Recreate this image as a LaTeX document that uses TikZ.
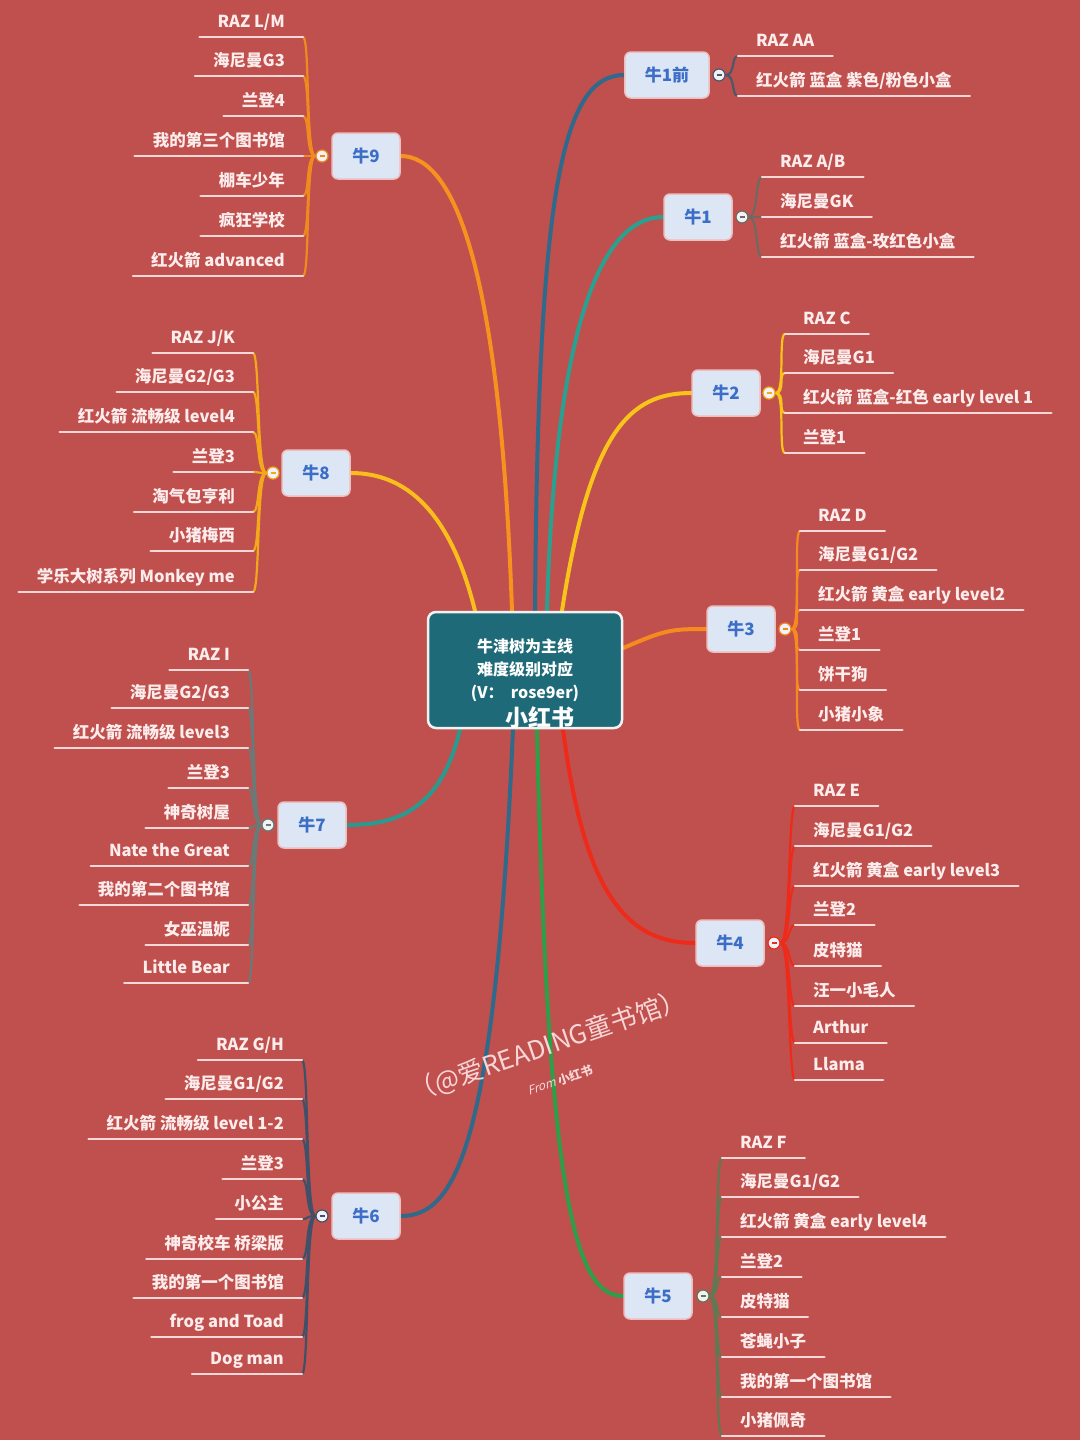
\documentclass[tikz,border=0pt]{standalone}
\usepackage{fontspec}
\setmainfont{Noto Sans CJK SC}
\newfontfamily\slantfont{Noto Sans CJK SC}[FakeSlant=0.3]
\usetikzlibrary{backgrounds}

\definecolor{bg}{RGB}{192,80,77}
\definecolor{ctrfill}{RGB}{30,106,120}
\definecolor{boxfill}{RGB}{220,230,244}
\definecolor{boxline}{RGB}{236,190,190}
\definecolor{niutext}{RGB}{60,110,200}
\definecolor{leaftext}{RGB}{252,236,236}
\definecolor{ulinec}{RGB}{247,215,215}
\definecolor{foldfill}{RGB}{240,242,246}
\definecolor{wmtext}{RGB}{246,214,214}
% branch colours
\definecolor{c1q}{RGB}{47,105,140}
\definecolor{c1qL}{RGB}{75,88,105}
\definecolor{c1}{RGB}{42,160,145}
\definecolor{c1L}{RGB}{112,104,98}
\definecolor{c2}{RGB}{248,196,26}
\definecolor{c3}{RGB}{246,138,31}
\definecolor{c4}{RGB}{238,43,26}
\definecolor{c5}{RGB}{46,158,72}
\definecolor{c5L}{RGB}{98,120,82}
\definecolor{c6}{RGB}{47,106,138}
\definecolor{c6L}{RGB}{64,80,104}
\definecolor{c7}{RGB}{42,154,144}
\definecolor{c7L}{RGB}{106,122,120}
\definecolor{c8}{RGB}{249,190,28}
\definecolor{c8L}{RGB}{242,168,26}
\definecolor{c9}{RGB}{247,146,30}
\definecolor{c9L}{RGB}{240,138,30}

\tikzset{
  leafR/.style={anchor=south west, inner xsep=18pt, inner ysep=3pt, text height=13pt, text depth=6pt, text=leaftext, font=\bfseries\fontsize{16.5}{18}\selectfont},
  leafL/.style={leafR, anchor=south east},
  uline/.style={draw=ulinec, line width=2.5pt, line cap=round},
  niu/.style={draw=boxline, fill=boxfill, rounded corners=6pt, line width=1.5pt, minimum width=68pt, minimum height=46pt, inner xsep=20pt, text=niutext, font=\bfseries\fontsize{17}{20}\selectfont},
  fold/.style={circle, draw=#1, fill=foldfill, line width=1.2pt, minimum size=12pt, inner sep=0pt, text=#1},
  trunk/.style={draw=#1, line width=4pt, line cap=round},
  twig/.style={draw=#1, line width=2.2pt},
}

\begin{document}
\begin{tikzpicture}[x=1pt,y=-1pt]
\useasboundingbox (0,0) rectangle (1080,1440);

% centre
\node[draw=white!90!gray, fill=ctrfill, rounded corners=8pt, line width=2.5pt, minimum width=194pt, minimum height=116pt, align=center, text=white, font=\bfseries\fontsize{16}{23}\selectfont] (ctr) at (525,670) {牛津树为主线\\难度级别对应\\(V：\ \ rose9er)};
\node[text=white, font=\bfseries\fontsize{23}{25}\selectfont] (wm1) at (540,718) {小红书};

% branches
\node[niu] (n1q) at (667,75) {牛1前};
\node[niu] (n1) at (698,217) {牛1};
\node[niu] (n2) at (726,393) {牛2};
\node[niu] (n3) at (741,629) {牛3};
\node[niu] (n4) at (730,943) {牛4};
\node[niu] (n5) at (658,1296) {牛5};
\node[niu] (n6) at (366,1216) {牛6};
\node[niu] (n7) at (312,825) {牛7};
\node[niu] (n8) at (316,473) {牛8};
\node[niu] (n9) at (366,156) {牛9};

\begin{pgfonlayer}{background}
\fill[bg] (0,0) rectangle (1080,1440);
\draw[trunk=c1q] ([xshift=10pt]ctr.north) .. controls (538,200) and (560,75) .. (n1q.west);
\draw[trunk=c1] ([xshift=22pt]ctr.north) .. controls (555,330) and (600,217) .. (n1.west);
\draw[trunk=c2] ([xshift=37pt]ctr.north) .. controls (590,430) and (630,393) .. (n2.west);
\draw[trunk=c3] ([yshift=22pt]ctr.east) .. controls (665,630) and (670,629) .. (n3.west);
\draw[trunk=c4] ([xshift=38pt]ctr.south) .. controls (585,900) and (630,943) .. (n4.west);
\draw[trunk=c5] ([xshift=12pt]ctr.south) .. controls (548,1200) and (575,1296) .. (n5.west);
\draw[trunk=c6] ([xshift=-12pt]ctr.south) .. controls (495,1150) and (455,1216) .. (n6.east);
\draw[trunk=c7] ([xshift=-65pt]ctr.south) .. controls (440,815) and (390,825) .. (n7.east);
\draw[trunk=c8] ([xshift=-50pt]ctr.north) .. controls (450,510) and (405,473) .. (n8.east);
\draw[trunk=c9] ([xshift=-13pt]ctr.north) .. controls (500,270) and (455,156) .. (n9.east);
\end{pgfonlayer}

% fold buttons
\node[fold=c1qL] (f1q) at (719,75) {\rule{5pt}{1.6pt}};
\node[fold=c1L] (f1) at (742,217) {\rule{5pt}{1.6pt}};
\node[fold=c8L] (f2) at (769,393) {\rule{5pt}{1.6pt}};
\node[fold=c9L] (f3) at (785,629) {\rule{5pt}{1.6pt}};
\node[fold=c4] (f4) at (774,943) {\rule{5pt}{1.6pt}};
\node[fold=c5L] (f5) at (703,1296) {\rule{5pt}{1.6pt}};
\node[fold=c6L] (f6) at (322,1216) {\rule{5pt}{1.6pt}};
\node[fold=c7L] (f7) at (268,825) {\rule{5pt}{1.6pt}};
\node[fold=c8L] (f8) at (273,473) {\rule{5pt}{1.6pt}};
\node[fold=c9L] (f9) at (322,156) {\rule{5pt}{1.6pt}};

% 牛1前
\node[leafR] (l1qa) at (738,56) {RAZ AA};
\node[leafR] (l1qb) at (738,96) {红火箭 蓝盒 紫色/粉色小盒};
% 牛1
\node[leafR] (l1a) at (762,177) {RAZ A/B};
\node[leafR] (l1b) at (762,217) {海尼曼GK};
\node[leafR] (l1c) at (762,257) {红火箭 蓝盒-玫红色小盒};
% 牛2
\node[leafR] (l2a) at (785,334) {RAZ C};
\node[leafR] (l2b) at (785,373) {海尼曼G1};
\node[leafR] (l2c) at (785,413) {红火箭 蓝盒-红色 early level 1};
\node[leafR] (l2d) at (785,453) {兰登1};
% 牛3
\node[leafR] (l3a) at (800,531) {RAZ D};
\node[leafR] (l3b) at (800,570) {海尼曼G1/G2};
\node[leafR] (l3c) at (800,610) {红火箭 黄盒 early level2};
\node[leafR] (l3d) at (800,650) {兰登1};
\node[leafR] (l3e) at (800,690) {饼干狗};
\node[leafR] (l3f) at (800,730) {小猪小象};
% 牛4
\node[leafR] (l4a) at (795,806) {RAZ E};
\node[leafR] (l4b) at (795,846) {海尼曼G1/G2};
\node[leafR] (l4c) at (795,886) {红火箭 黄盒 early level3};
\node[leafR] (l4d) at (795,925) {兰登2};
\node[leafR] (l4e) at (795,966) {皮特猫};
\node[leafR] (l4f) at (795,1006) {汪一小毛人};
\node[leafR] (l4g) at (795,1043) {Arthur};
\node[leafR] (l4h) at (795,1080) {Llama};
% 牛5
\node[leafR] (l5a) at (722,1158) {RAZ F};
\node[leafR] (l5b) at (722,1197) {海尼曼G1/G2};
\node[leafR] (l5c) at (722,1237) {红火箭 黄盒 early level4};
\node[leafR] (l5d) at (722,1277) {兰登2};
\node[leafR] (l5e) at (722,1317) {皮特猫};
\node[leafR] (l5f) at (722,1357) {苍蝇小子};
\node[leafR] (l5g) at (722,1397) {我的第一个图书馆};
\node[leafR] (l5h) at (722,1436) {小猪佩奇};
% 牛6
\node[leafL] (l6a) at (302,1060) {RAZ G/H};
\node[leafL] (l6b) at (302,1099) {海尼曼G1/G2};
\node[leafL] (l6c) at (302,1139) {红火箭 流畅级 level 1-2};
\node[leafL] (l6d) at (302,1179) {兰登3};
\node[leafL] (l6e) at (302,1219) {小公主};
\node[leafL] (l6f) at (302,1259) {神奇校车 桥梁版};
\node[leafL] (l6g) at (302,1298) {我的第一个图书馆};
\node[leafL] (l6h) at (302,1337) {frog and Toad};
\node[leafL] (l6i) at (302,1374) {Dog man};
% 牛7
\node[leafL] (l7a) at (248,670) {RAZ I};
\node[leafL] (l7b) at (248,708) {海尼曼G2/G3};
\node[leafL] (l7c) at (248,748) {红火箭 流畅级 level3};
\node[leafL] (l7d) at (248,788) {兰登3};
\node[leafL] (l7e) at (248,828) {神奇树屋};
\node[leafL] (l7f) at (248,866) {Nate the Great};
\node[leafL] (l7g) at (248,905) {我的第二个图书馆};
\node[leafL] (l7h) at (248,945) {女巫温妮};
\node[leafL] (l7i) at (248,983) {Little Bear};
% 牛8
\node[leafL] (l8a) at (253,353) {RAZ J/K};
\node[leafL] (l8b) at (253,392) {海尼曼G2/G3};
\node[leafL] (l8c) at (253,432) {红火箭 流畅级 level4};
\node[leafL] (l8d) at (253,472) {兰登3};
\node[leafL] (l8e) at (253,512) {淘气包亨利};
\node[leafL] (l8f) at (253,551) {小猪梅西};
\node[leafL] (l8g) at (253,592) {学乐大树系列 Monkey me};
% 牛9
\node[leafL] (l9a) at (303,37) {RAZ L/M};
\node[leafL] (l9b) at (303,76) {海尼曼G3};
\node[leafL] (l9c) at (303,116) {兰登4};
\node[leafL] (l9d) at (303,156) {我的第三个图书馆};
\node[leafL] (l9e) at (303,196) {棚车少年};
\node[leafL] (l9f) at (303,236) {疯狂学校};
\node[leafL] (l9g) at (303,276) {红火箭 advanced};

\begin{pgfonlayer}{background}
\foreach \b/\c/\ls in {1q/c1qL/{a,b}, 1/c1L/{a,b,c}, 2/c2/{a,b,c,d}, 3/c3/{a,b,c,d,e,f}, 4/c4/{a,b,c,d,e,f,g,h}, 5/c5L/{a,b,c,d,e,f,g,h}}
  \foreach \l in \ls
    \draw[twig=\c] (f\b.east) .. controls +(10,0) and +(-7,0) .. (l\b\l.south west);
\foreach \b/\c/\ls in {6/c6L/{a,b,c,d,e,f,g,h,i}, 7/c7L/{a,b,c,d,e,f,g,h,i}, 8/c8L/{a,b,c,d,e,f,g}, 9/c9L/{a,b,c,d,e,f,g}}
  \foreach \l in \ls
    \draw[twig=\c] (f\b.west) .. controls +(-10,0) and +(7,0) .. (l\b\l.south east);
\end{pgfonlayer}

% underlines
\foreach \n in {l1qa,l1qb,l1a,l1b,l1c,l2a,l2b,l2c,l2d,l3a,l3b,l3c,l3d,l3e,l3f,l4a,l4b,l4c,l4d,l4e,l4f,l4g,l4h,l5a,l5b,l5c,l5d,l5e,l5f,l5g,l5h,l6a,l6b,l6c,l6d,l6e,l6f,l6g,l6h,l6i,l7a,l7b,l7c,l7d,l7e,l7f,l7g,l7h,l7i,l8a,l8b,l8c,l8d,l8e,l8f,l8g,l9a,l9b,l9c,l9d,l9e,l9f,l9g}
  \draw[uline] (\n.south west) -- (\n.south east);

% watermark
\node[rotate=19, text=wmtext, inner sep=0pt, font=\fontsize{26}{28}\selectfont] (wm2) at (548,1046) {（@爱READING童书馆）};
\node[rotate=19, text=wmtext, inner sep=0pt, font=\fontsize{12}{14}\selectfont] (wm3) at (560,1080) {{\slantfont From} \textbf{小红书}};
\end{tikzpicture}
\end{document}
